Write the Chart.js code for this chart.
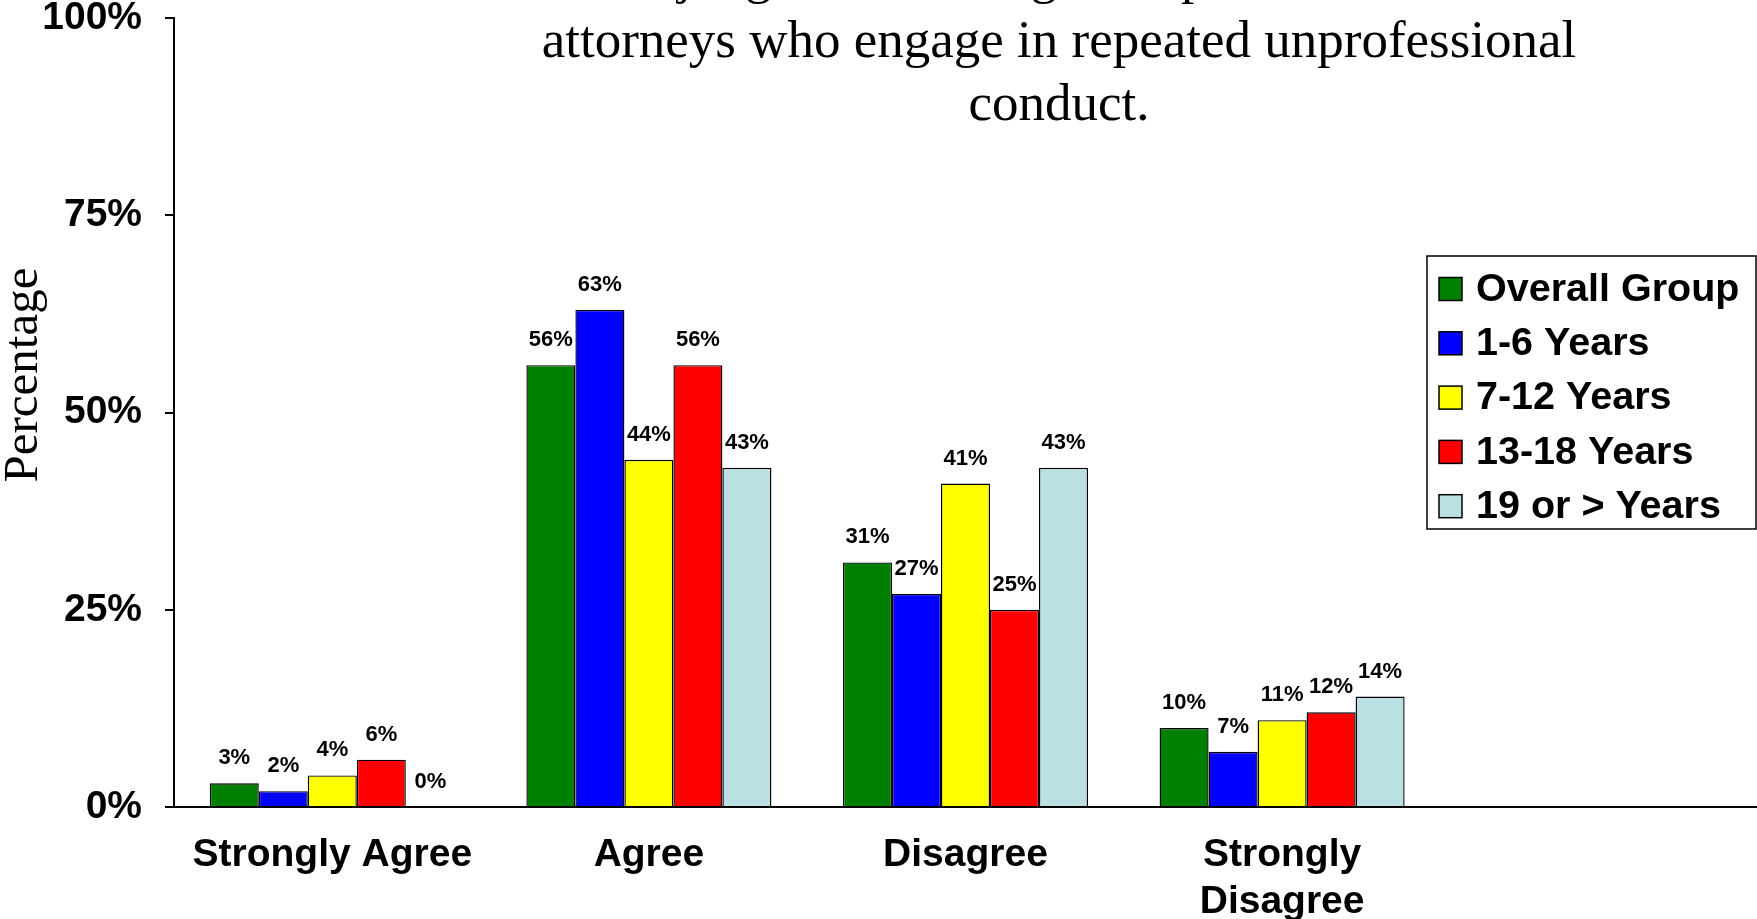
<!DOCTYPE html>
<html>
<head>
<meta charset="utf-8">
<script src="https://cdn.jsdelivr.net/npm/chart.js@4.4.1/dist/chart.umd.min.js"></script>
<style>
  html, body { margin: 0; padding: 0; background: #fff; }
  #wrap { width: 1757px; height: 919px; position: relative; }
</style>
</head>
<body>
<div id="wrap"><canvas id="chart"></canvas></div>
<script>
// data
const categories = ['Strongly Agree', 'Agree', 'Disagree', ['Strongly', 'Disagree'], ''];
const seriesNames = ['Overall Group', '1-6 Years', '7-12 Years', '13-18 Years', '19 or > Years'];
const overallGroup = [3, 56, 31, 10, null];
const years1to6 = [2, 63, 27, 7, null];
const years7to12 = [4, 44, 41, 11, null];
const years13to18 = [6, 56, 25, 12, null];
const years19plus = [0, 43, 43, 14, null];
const yTicks = [0, 25, 50, 75, 100];
const titleLines = [
    'Trial judges are willing to impose sanctions on',
    'attorneys who engage in repeated unprofessional',
    'conduct.'
];
const yAxisTitle = 'Percentage';

const seriesColors = ['#008000', '#0000FF', '#FFFF00', '#FF0000', '#BBE0E3'];
const SANS = "'Liberation Sans', Arial, sans-serif";
const SERIF = "'Liberation Serif', 'Times New Roman', serif";

Chart.defaults.font.family = SANS;
Chart.defaults.color = '#000';

// title + y axis title, drawn on the canvas
const textPlugin = {
    id: 'textPlugin',
    afterDraw(chart) {
        const ctx = chart.ctx;
        ctx.save();
        ctx.fillStyle = '#000';
        ctx.font = `53px ${SERIF}`;
        ctx.textAlign = 'center';
        ctx.textBaseline = 'alphabetic';
        const baselines = [-7, 57, 120];
        titleLines.forEach((line, i) => ctx.fillText(line, 1059, baselines[i]));

        ctx.font = `49px ${SERIF}`;
        ctx.translate(37, 375);
        ctx.rotate(-Math.PI / 2);
        ctx.fillText(yAxisTitle, 0, 0);
        ctx.restore();
    }
};

// value labels above each bar
const valueLabels = {
    id: 'valueLabels',
    afterDatasetsDraw(chart) {
        const ctx = chart.ctx;
        ctx.save();
        ctx.fillStyle = '#000';
        ctx.font = `bold 22px ${SANS}`;
        ctx.textAlign = 'center';
        ctx.textBaseline = 'alphabetic';
        chart.data.datasets.forEach((ds, di) => {
            const meta = chart.getDatasetMeta(di);
            meta.data.forEach((bar, i) => {
                const v = ds.data[i];
                if (v === null || v === undefined) return;
                ctx.fillText(v + '%', bar.x, bar.y - 19);
            });
        });
        ctx.restore();
    }
};

// boxed legend at the right
const boxLegend = {
    id: 'boxLegend',
    afterDraw(chart) {
        const ctx = chart.ctx;
        ctx.save();
        ctx.strokeStyle = '#000';
        ctx.lineWidth = 1.5;
        ctx.strokeRect(1427, 256, 1757 - 1427 - 1, 529 - 256);
        ctx.font = `bold 39.5px ${SANS}`;
        ctx.textAlign = 'left';
        ctx.textBaseline = 'middle';
        chart.data.datasets.forEach((ds, i) => {
            const cy = 289 + i * 54.3;
            ctx.fillStyle = ds.backgroundColor;
            ctx.fillRect(1439, cy - 11.5, 23, 23);
            ctx.strokeRect(1439, cy - 11.5, 23, 23);
            ctx.fillStyle = '#000';
            ctx.fillText(ds.label, 1476, cy + 1);
        });
        ctx.restore();
    }
};

const seriesValues = [overallGroup, years1to6, years7to12, years13to18, years19plus];

new Chart(document.getElementById('chart').getContext('2d'), {
    type: 'bar',
    data: {
        labels: categories,
        datasets: seriesNames.map((name, i) => ({
            label: name,
            data: seriesValues[i],
            backgroundColor: seriesColors[i],
            borderColor: '#000',
            borderWidth: 1.4,
            categoryPercentage: 0.774,
            barPercentage: 1
        }))
    },
    options: {
        responsive: true,
        maintainAspectRatio: false,
        animation: false,
        layout: { padding: { top: 18, left: 0, right: -4, bottom: 0 } },
        plugins: {
            legend: { display: false },
            title: { display: false },
            tooltip: { enabled: false }
        },
        scales: {
            x: {
                grid: { display: false },
                border: { display: true, color: '#000', width: 2 },
                ticks: {
                    autoSkip: false,
                    maxRotation: 0,
                    minRotation: 0,
                    padding: 16,
                    color: '#000',
                    font: { size: 39, weight: 'bold', lineHeight: 1.22 }
                },
                afterFit(scale) {
                    scale.height = 112;
                    scale.paddingLeft = 0;
                    scale.paddingRight = 0;
                }
            },
            y: {
                min: 0,
                max: 100,
                afterBuildTicks(scale) { scale.ticks = yTicks.map(v => ({ value: v })); },
                grid: {
                    display: true,
                    drawOnChartArea: false,
                    drawTicks: true,
                    tickLength: 9,
                    color: '#000',
                    lineWidth: 2
                },
                border: { display: true, color: '#000', width: 2 },
                ticks: {
                    padding: 23,
                    color: '#000',
                    font: { size: 39, weight: 'bold', lineHeight: 0.9 },
                    callback: v => v + '%'
                },
                afterFit(scale) {
                    scale.width = 174;
                    scale.paddingTop = 0;
                    scale.paddingBottom = 0;
                }
            }
        }
    },
    plugins: [textPlugin, valueLabels, boxLegend]
});
</script>
</body>
</html>
